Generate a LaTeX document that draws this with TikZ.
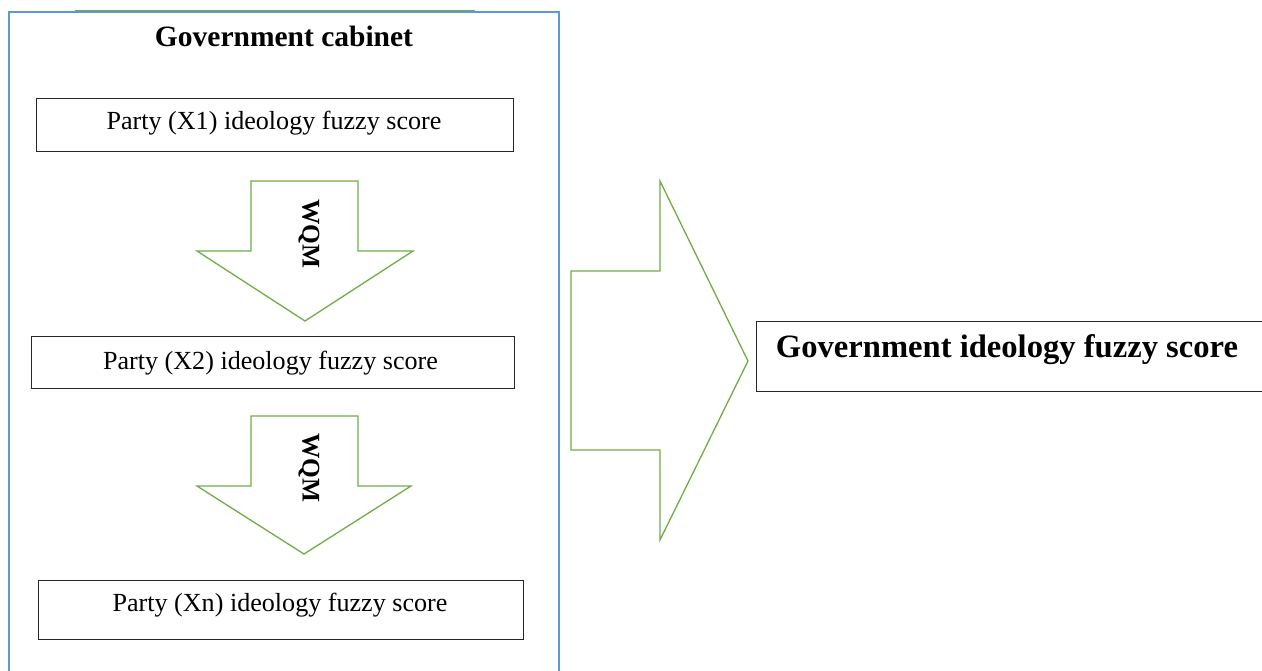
\documentclass[tikz,border=0pt]{standalone}
\usepackage{fontspec}
\setmainfont{Liberation Serif}
\definecolor{framebl}{RGB}{91,155,213}
\definecolor{flowgr}{RGB}{112,173,71}
\begin{document}
\begin{tikzpicture}[x=1pt,y=-1pt,
  cabframe/.style={draw=framebl, line width=1.3pt},
  scorebox/.style={draw=black!85, line width=1pt, inner sep=0pt},
  flow/.style={draw=flowgr, line width=1.3pt, line join=miter},
  party/.style={font=\fontsize{26.1}{30}\selectfont, anchor=base, inner sep=0pt},
  bigtitle/.style={font=\fontsize{32.6}{36}\selectfont\bfseries, anchor=base, inner sep=0pt},
  wqm/.style={font=\fontsize{25.4}{28}\selectfont\bfseries, rotate=-90, inner sep=0pt}]
\useasboundingbox (0,0) rectangle (1262,671);

% partly hidden shape edge above the cabinet frame
\draw[flowgr, line width=2pt] (75,11) -- (475,11);

% cabinet frame
\draw[cabframe, fill=white] (9,672) -- (9,12) -- (559,12) -- (559,672);
\node[font=\fontsize{29.5}{32}\selectfont\bfseries, inner sep=0pt] (title) at (284,36) {Government cabinet};

% party boxes
\node[scorebox, minimum width=477pt, minimum height=53pt] (b1) at (274.5,125.5) {};
\node[party] (t1) at (274,130) {Party (X1) ideology fuzzy score};
\node[scorebox, minimum width=483pt, minimum height=52pt] (b2) at (272.5,362) {};
\node[party] (t2) at (270.5,370) {Party (X2) ideology fuzzy score};
\node[scorebox, minimum width=485pt, minimum height=59pt] (b3) at (280.5,609.5) {};
\node[party] (t3) at (280,611) {Party (Xn) ideology fuzzy score};

% WQM arrows between parties
\draw[flow, fill=white] (251,181) -- (358,181) -- (358,251) -- (413,251) -- (305,321)
  -- (197,251) -- (251,251) -- cycle;
\node[wqm] (w1) at (309,234) {WQM};
\draw[flow, fill=white] (251,416) -- (358,416) -- (358,486) -- (411,486) -- (304,554)
  -- (197,486) -- (251,486) -- cycle;
\node[wqm] (w2) at (309,468) {WQM};

% aggregation arrow
\draw[flow] (571,271) -- (660,271) -- (660,181) -- (748,361) -- (660,540)
  -- (660,450) -- (571,450) -- cycle;

% government score
\node[scorebox, minimum width=506pt, minimum height=69pt] (res) at (1009,356.5) {};
\node[bigtitle] (tres) at (1007,357) {Government ideology fuzzy score};
\end{tikzpicture}
\end{document}
